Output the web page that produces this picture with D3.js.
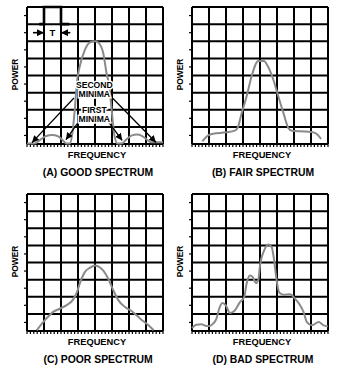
<!DOCTYPE html>
<html>
<head>
<meta charset="UTF-8">
<script src="https://d3js.org/d3.v7.min.js"></script>
<style>
  body { margin: 0; background: #fff; }
  text { font-family: "Liberation Sans", Arial, sans-serif; font-weight: bold; fill: #000; }
</style>
</head>
<body>
<svg id="chart" width="352" height="388"></svg>
<script>
// grid is 8 x 8 cells, values are read in cell units
var gridCols = d3.range(0, 9);
var gridRows = d3.range(0, 9);

// (A) good spectrum
var goodX = [0, 0.43, 0.83, 1.13, 1.48, 1.82, 2.11, 2.31, 2.51, 2.67, 2.81, 2.94, 3.1, 3.4, 3.7, 4.0, 4.19, 4.49, 4.68, 4.84, 4.98, 5.12, 5.32, 5.57, 5.87, 6.17, 6.46, 6.76, 7.06, 7.29, 8];
var goodY = [0.03, 0.03, 0.29, 0.47, 0.52, 0.45, 0.21, 0.03, 0.03, 0.64, 2.0, 3.64, 4.52, 5.48, 5.93, 6.0, 5.93, 5.29, 4.13, 3.35, 2.0, 0.64, 0.03, 0.03, 0.29, 0.5, 0.56, 0.48, 0.25, 0.1, 0.1];

// (B) fair spectrum
var fairX = [0.61, 0.95, 1.24, 2.03, 2.52, 2.68, 2.92, 3.21, 3.5, 3.9, 4.24, 4.43, 4.79, 5.08, 5.38, 5.67, 5.87, 6.36, 7.05, 7.39, 7.59];
var fairY = [0.16, 0.5, 0.6, 0.68, 0.78, 0.93, 1.8, 2.77, 3.93, 4.84, 4.84, 4.6, 3.74, 2.77, 1.8, 0.93, 0.78, 0.74, 0.7, 0.54, 0.29];

// (C) poor spectrum
var poorX = [0.57, 1.13, 1.52, 1.92, 2.31, 2.71, 2.94, 3.1, 3.4, 3.7, 3.99, 4.19, 4.49, 4.78, 5.08, 5.38, 5.77, 6.17, 6.66, 7.15, 7.45];
var poorY = [0.04, 0.72, 1.1, 1.3, 1.5, 1.83, 2.27, 2.76, 3.44, 3.69, 3.83, 3.77, 3.53, 3.05, 2.37, 1.79, 1.4, 1.15, 0.72, 0.33, 0.04];

// (D) bad spectrum
var badX = [0, 0.26, 0.55, 0.85, 1.04, 1.24, 1.44, 1.6, 1.79, 1.99, 2.23, 2.52, 2.82, 3.07, 3.21, 3.41, 3.57, 3.76, 3.9, 4.0, 4.24, 4.49, 4.69, 4.83, 4.98, 5.14, 5.38, 5.77, 6.07, 6.36, 6.56, 6.76, 7.05, 7.45, 7.74, 8.0];
var badY = [0.17, 0.37, 0.39, 0.29, 0.29, 0.43, 0.72, 1.3, 1.63, 1.5, 1.05, 1.2, 1.69, 1.98, 2.76, 3.24, 3.15, 2.8, 2.99, 3.83, 4.7, 5.05, 4.89, 4.14, 2.95, 2.23, 2.12, 2.14, 1.88, 1.5, 1.11, 0.52, 0.33, 0.52, 0.33, 0.27];

var titles = ["(A) GOOD SPECTRUM", "(B) FAIR SPECTRUM", "(C) POOR SPECTRUM", "(D) BAD SPECTRUM"];
var xLabel = "FREQUENCY", yLabel = "POWER";

var panels = [
  { left: 27, top: 7,   xs: goodX, ys: goodY, title: titles[0] },
  { left: 192, top: 7,  xs: fairX, ys: fairY, title: titles[1] },
  { left: 27, top: 194, xs: poorX, ys: poorY, title: titles[2] },
  { left: 192, top: 194, xs: badX, ys: badY, title: titles[3] }
];

var w = 136, h = 137;
var svg = d3.select("#chart");

svg.append("defs").append("marker")
  .attr("id", "head")
  .attr("viewBox", "0 0 10 10")
  .attr("refX", 10).attr("refY", 5)
  .attr("markerWidth", 7).attr("markerHeight", 7)
  .attr("markerUnits", "userSpaceOnUse")
  .attr("orient", "auto")
  .append("path").attr("d", "M0,0 L10,5 L0,10 Z").attr("fill", "#000");

panels.forEach(function(p, i) {
  var x = d3.scaleLinear().domain([0, 8]).range([0, w]);
  var y = d3.scaleLinear().domain([0, 8]).range([h, 0]);
  var g = svg.append("g").attr("transform", "translate(" + p.left + "," + p.top + ")");

  // minor ticks
  g.append("g").attr("transform", "translate(0," + h + ")")
    .call(d3.axisBottom(x).tickValues(d3.range(0, 8.01, 0.2)).tickSize(3).tickFormat("").offset(0))
    .call(function(a) { a.select(".domain").remove(); a.selectAll("line").attr("stroke-width", 1.2); });
  g.append("g")
    .call(d3.axisLeft(y).tickValues(d3.range(0.5, 8, 1)).tickSize(3).tickFormat("").offset(0))
    .call(function(a) { a.select(".domain").remove(); a.selectAll("line").attr("stroke-width", 1.2); });

  // grid
  g.append("g").attr("transform", "translate(0," + h + ")")
    .call(d3.axisBottom(x).tickValues(gridCols).tickSize(-h).tickFormat("").offset(0))
    .call(function(a) { a.select(".domain").remove(); a.selectAll("line").attr("stroke-width", 2); });
  g.append("g")
    .call(d3.axisLeft(y).tickValues(gridRows).tickSize(-w).tickFormat("").offset(0))
    .call(function(a) { a.select(".domain").remove(); a.selectAll("line").attr("stroke-width", 2); });

  // spectrum curve
  var line = d3.line()
    .x(function(d, k) { return x(p.xs[k]); })
    .y(function(d, k) { return y(p.ys[k]); })
    .curve(d3.curveMonotoneX);
  g.append("path").datum(p.xs)
    .attr("d", line)
    .attr("fill", "none")
    .attr("stroke", "#8a8a8a")
    .attr("stroke-width", 2)
    .attr("stroke-linejoin", "round");

  // labels
  g.append("text").attr("x", w / 2 + 2).attr("y", h + 14)
    .attr("text-anchor", "middle").attr("font-size", 9.3).text(xLabel);
  g.append("text").attr("x", w / 2 + 3).attr("y", h + 32)
    .attr("text-anchor", "middle").attr("font-size", 10.4).text(p.title);
  g.append("text")
    .attr("transform", "translate(" + (-9.5) + "," + (h / 2 - 1) + ") rotate(-90)")
    .attr("text-anchor", "middle").attr("font-size", 8.4).text(yLabel);

  if (i === 0) {
    // pulse of width T
    g.append("path")
      .attr("d", d3.line()([[x(0.72), y(7)], [x(1), y(7)], [x(1), y(8)], [x(2), y(8)], [x(2), y(7)], [x(2.49), y(7)]]))
      .attr("fill", "none").attr("stroke", "#000").attr("stroke-width", 2.6);
    g.append("line").attr("x1", x(0.35)).attr("y1", y(6.5)).attr("x2", x(1)).attr("y2", y(6.5))
      .attr("stroke", "#000").attr("stroke-width", 1.6).attr("marker-end", "url(#head)");
    g.append("line").attr("x1", x(2.55)).attr("y1", y(6.5)).attr("x2", x(2)).attr("y2", y(6.5))
      .attr("stroke", "#000").attr("stroke-width", 1.6).attr("marker-end", "url(#head)");
    g.append("text").attr("x", x(1.5)).attr("y", y(6.5) + 3.5)
      .attr("text-anchor", "middle").attr("font-size", 9.5).text("T");

    // minima arrows
    var arrows = [
      [2.76, 2.69, 0.29, 0.08],
      [5.04, 2.67, 7.59, 0.09],
      [3.12, 1.41, 2.29, 0.25],
      [4.78, 1.31, 5.6, 0.21]
    ];
    arrows.forEach(function(a) {
      g.append("line").attr("x1", x(a[0])).attr("y1", y(a[1])).attr("x2", x(a[2])).attr("y2", y(a[3]))
        .attr("stroke", "#000").attr("stroke-width", 1.3).attr("marker-end", "url(#head)");
    });

    var notes = [["SECOND", 3.28], ["MINIMA", 2.74], ["FIRST", 1.8], ["MINIMA", 1.26]];
    notes.forEach(function(n) {
      g.append("text").attr("x", x(3.96)).attr("y", y(n[1]))
        .attr("text-anchor", "middle").attr("font-size", 8.6)
        .attr("stroke", "#fff").attr("stroke-width", 3).attr("paint-order", "stroke")
        .text(n[0]);
    });
  }
});
</script>
</body>
</html>
